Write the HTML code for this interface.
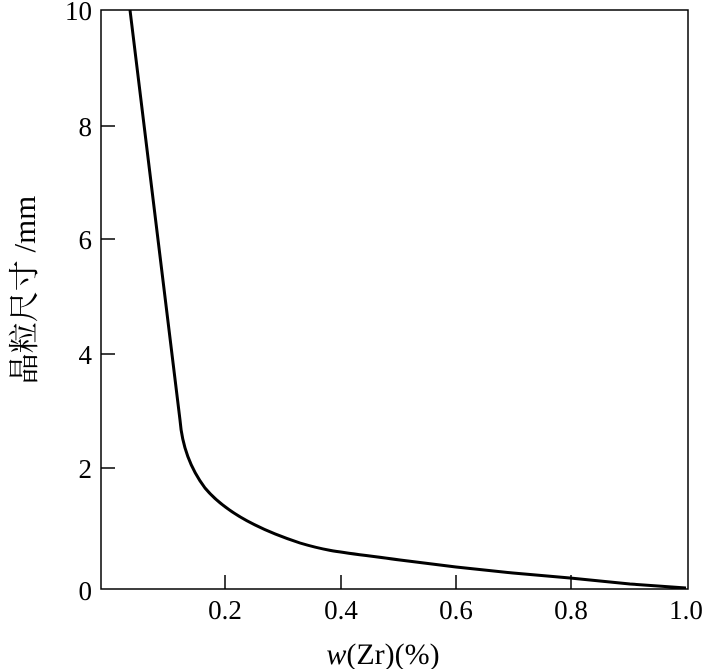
<!DOCTYPE html>
<html><head><meta charset="utf-8"><style>
body{margin:0;background:#fff;}
svg{display:block;}
text{font-family:"Liberation Serif","Noto Serif CJK SC",serif;fill:#000;}
</style></head><body>
<svg width="707" height="669" viewBox="0 0 707 669">
<rect x="101" y="10" width="587" height="579" fill="none" stroke="#000" stroke-width="1.5"/>
<g stroke="#000" stroke-width="1.5">
<line x1="101" y1="126" x2="115" y2="126"/>
<line x1="101" y1="239" x2="115" y2="239"/>
<line x1="101" y1="354" x2="115" y2="354"/>
<line x1="101" y1="468" x2="115" y2="468"/>
<line x1="225" y1="589" x2="225" y2="575"/>
<line x1="341" y1="589" x2="341" y2="575"/>
<line x1="456" y1="589" x2="456" y2="575"/>
<line x1="571" y1="589" x2="571" y2="575"/>
</g>
<g font-size="27" text-anchor="end">
<text x="92" y="20">10</text>
<text x="92" y="136">8</text>
<text x="92" y="249">6</text>
<text x="92" y="364">4</text>
<text x="92" y="478">2</text>
<text x="92" y="600">0</text>
</g>
<g font-size="27" text-anchor="middle">
<text x="225" y="619">0.2</text>
<text x="341" y="619">0.4</text>
<text x="456" y="619">0.6</text>
<text x="571" y="619">0.8</text>
<text x="686" y="619">1.0</text>
</g>
<text x="383" y="664" font-size="30" text-anchor="middle"><tspan font-style="italic">w</tspan>(Zr)(%)</text>
<text transform="translate(35,290) rotate(-90)" font-size="31" text-anchor="middle">晶粒尺寸 /mm</text>
<path d="M130,10 L180,420 C182,445 190,468 205,488 C225,512 260,530 300,543 C330,552 342,552 400,560 L456,567 L513,573 L570,578 L630,584 L686,588" fill="none" stroke="#000" stroke-width="3"/>
</svg>
</body></html>
